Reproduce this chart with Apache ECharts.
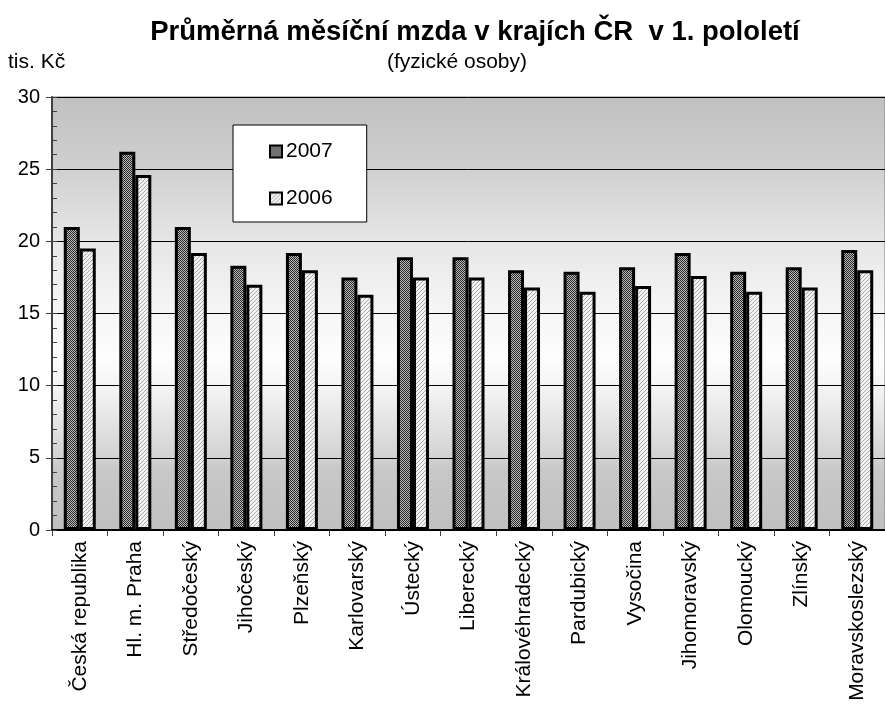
<!DOCTYPE html>
<html>
<head>
<meta charset="utf-8">
<script src="https://cdn.jsdelivr.net/npm/echarts@6/dist/echarts.min.js"></script>
<style>
  html, body { margin: 0; padding: 0; background: #fff; }
  #chart { width: 885px; height: 704px; }
</style>
</head>
<body>
<div id="chart"></div>
<script>
// data (tis. Kč)
var regions = ['Česká republika', 'Hl. m. Praha', 'Středočeský', 'Jihočeský', 'Plzeňský',
	'Karlovarský', 'Ústecký', 'Liberecký', 'Královéhradecký', 'Pardubický', 'Vysočina',
	'Jihomoravský', 'Olomoucký', 'Zlínský', 'Moravskoslezský'];
var wage2007 = [21.0, 26.2, 21.0, 18.3, 19.2, 17.5, 18.9, 18.9, 18.0, 17.9, 18.2, 19.2, 17.9, 18.2, 19.4];
var wage2006 = [19.5, 24.6, 19.2, 17.0, 18.0, 16.3, 17.5, 17.5, 16.8, 16.5, 16.9, 17.6, 16.5, 16.8, 18.0];
var yTicks = [0, 5, 10, 15, 20, 25, 30];

var FONT = '"Liberation Sans", Arial, sans-serif';

// small canvas tiles for the bar fills
function makePattern(size, paint) {
	var c = document.createElement('canvas');
	c.width = size; c.height = size;
	var ctx = c.getContext('2d');
	paint(ctx);
	return { image: c, repeat: 'repeat' };
}

var dotted = makePattern(2, function(ctx) {
	ctx.fillStyle = '#b8b8b8';
	ctx.fillRect(0, 0, 2, 2);
	ctx.fillStyle = '#2a2a2a';
	ctx.fillRect(0, 0, 1, 1);
	ctx.fillRect(1, 1, 1, 1);
});

var hatched = makePattern(4, function(ctx) {
	ctx.fillStyle = '#f2f2f2';
	ctx.fillRect(0, 0, 4, 4);
	ctx.fillStyle = '#aaaaaa';
	for (var i = 0; i < 4; i++) ctx.fillRect(3 - i, i, 1, 1);
});

var plotBg = new echarts.graphic.LinearGradient(0, 0, 0, 1, [
	{ offset: 0, color: '#c0c0c0' },
	{ offset: 0.17, color: '#d0d0d0' },
	{ offset: 0.33, color: '#e6e6e6' },
	{ offset: 0.5, color: '#f6f6f6' },
	{ offset: 0.6, color: '#fdfdfd' },
	{ offset: 0.67, color: '#f4f4f4' },
	{ offset: 0.75, color: '#e4e4e4' },
	{ offset: 0.83, color: '#d2d2d2' },
	{ offset: 0.86, color: '#c8c8c8' },
	{ offset: 1, color: '#c0c0c0' }
]);

var chart = echarts.init(document.getElementById('chart'), null, { renderer: 'canvas' });

var option = {
	animation: false,
	textStyle: { fontFamily: FONT },
	graphic: [
		{ type: 'text', x: 475, y: 32, style: { text: 'Průměrná měsíční mzda v krajích ČR  v 1. pololetí',
			font: 'bold 27.5px ' + FONT, fill: '#000', textAlign: 'center', textVerticalAlign: 'middle' } },
		{ type: 'text', x: 457, y: 62, style: { text: '(fyzické osoby)',
			font: '21px ' + FONT, fill: '#000', textAlign: 'center', textVerticalAlign: 'middle' } },
		{ type: 'text', x: 8, y: 62, style: { text: 'tis. Kč',
			font: '21px ' + FONT, fill: '#000', textAlign: 'left', textVerticalAlign: 'middle' } }
	],
	grid: {
		left: 52, right: -9, top: 97, bottom: 174,
		show: true,
		backgroundColor: plotBg,
		borderColor: '#808080',
		borderWidth: 1
	},
	legend: {
		orient: 'vertical',
		left: 233, top: 125,
		padding: [16, 34, 13, 36],
		backgroundColor: '#fff',
		borderColor: '#000',
		borderWidth: 1,
		borderRadius: 0,
		itemWidth: 12, itemHeight: 12,
		itemGap: 26,
		icon: 'rect',
		data: [
			{ name: '2007', itemStyle: { color: dotted, borderColor: '#000', borderWidth: 2 } },
			{ name: '2006', itemStyle: { color: hatched, borderColor: '#000', borderWidth: 2 } }
		],
		textStyle: { fontSize: 21, color: '#000', fontFamily: FONT, lineHeight: 21, padding: [0, 0, 0, -1] }
	},
	xAxis: {
		type: 'category',
		data: regions,
		axisLine: { lineStyle: { color: '#000', width: 2 } },
		axisTick: { show: true, interval: 0, length: 6, lineStyle: { color: '#404040', width: 1 } },
		axisLabel: { interval: 0, rotate: 90, margin: 11, fontSize: 21, color: '#000', fontFamily: FONT },
		splitLine: { show: false }
	},
	yAxis: [
		{
			type: 'value', min: 0, max: 30, interval: 5,
			axisLine: { show: true, lineStyle: { color: '#404040', width: 2 } },
			axisTick: { show: true, length: 6, lineStyle: { color: '#404040' } },
			axisLabel: { fontSize: 20, color: '#000', margin: 12, fontFamily: FONT,
				formatter: function(v) { return yTicks.indexOf(v) >= 0 ? String(v) : ''; } },
			splitLine: { show: true, lineStyle: { color: '#000', width: 1 } }
		},
		{
			// minor ticks inside the plot, one every 1 tis. Kč
			type: 'value', min: 0, max: 30, interval: 1, position: 'left',
			axisLine: { show: false },
			axisTick: { show: true, inside: true, length: 5, lineStyle: { color: '#404040' } },
			axisLabel: { show: false },
			splitLine: { show: false }
		}
	],
	series: [
		{
			name: '2007', type: 'bar', data: wage2007,
			barWidth: 16, barGap: '0%',
			itemStyle: { color: dotted, borderColor: '#000', borderWidth: 3 }
		},
		{
			name: '2006', type: 'bar', data: wage2006,
			barWidth: 16,
			itemStyle: { color: hatched, borderColor: '#000', borderWidth: 3 }
		}
	]
};

chart.setOption(option);
</script>
</body>
</html>
